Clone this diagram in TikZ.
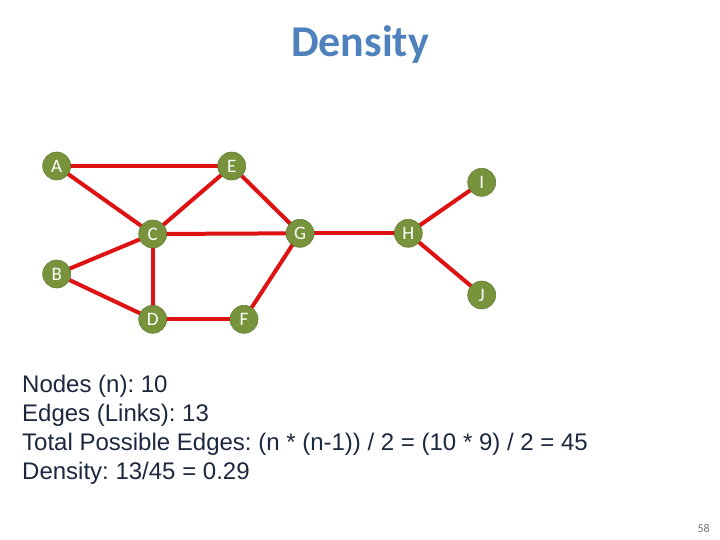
\documentclass[tikz,border=0pt]{standalone}
\usepackage{fontspec}
\setmainfont{Liberation Sans}
\newfontfamily\calib{Carlito}
\definecolor{nodegreen}{RGB}{119,147,60}
\definecolor{edgered}{RGB}{222,18,18}
\definecolor{titleblue}{RGB}{79,129,189}
\definecolor{textdark}{RGB}{28,40,62}
\pgfdeclarelayer{edges}
\pgfsetlayers{edges,main}
\tikzset{
  vtx/.style={circle, fill=nodegreen, draw=nodegreen!85!black, line width=0.6pt, minimum size=28pt, inner sep=0pt, text=white, font=\calib\fontsize{19}{19}\selectfont},
  edge/.style={edgered, line width=4pt},
  info/.style={anchor=base west, inner sep=0pt, text=textdark, font=\frenchspacing\fontsize{24}{28}\selectfont}
}
\begin{document}
\begin{tikzpicture}[x=1pt,y=-1pt]
\useasboundingbox (0,0) rectangle (720,540);
\node[font=\calib\bfseries\fontsize{44}{48}\selectfont, text=titleblue] (title) at (360,45) {Density};
\node[vtx] (A) at (56.7,166) {A};
\node[vtx] (E) at (231.7,166) {E};
\node[vtx] (C) at (152.7,234) {C};
\node[vtx] (B) at (56.7,274) {B};
\node[vtx] (D) at (152.7,319.3) {D};
\node[vtx] (F) at (244,319.3) {F};
\node[vtx] (G) at (300,233.3) {G};
\node[vtx] (H) at (408.3,233.3) {H};
\node[vtx] (I) at (481.7,182.3) {I};
\node[vtx] (J) at (481.7,295) {J};
\begin{pgfonlayer}{edges}
\foreach \u/\v in {A/E,A/C,E/C,E/G,C/G,C/B,C/D,B/D,D/F,F/G,G/H,H/I,H/J}
  \draw[edge] (\u.center) -- (\v.center);
\end{pgfonlayer}
\node[info] (l1) at (22,392) {Nodes (n): 10};
\node[info] (l2) at (22,421) {Edges (Links): 13};
\node[info] (l3) at (22,450) {Total Possible Edges: (n * (n-1)) / 2 = (10 * 9) / 2 = 45};
\node[info] (l4) at (22,479) {Density: 13/45 = 0.29};
\node[anchor=base east, inner sep=0pt, text=black!55, font=\calib\fontsize{12}{12}\selectfont] (pg) at (710,532) {58};
\end{tikzpicture}
\end{document}
